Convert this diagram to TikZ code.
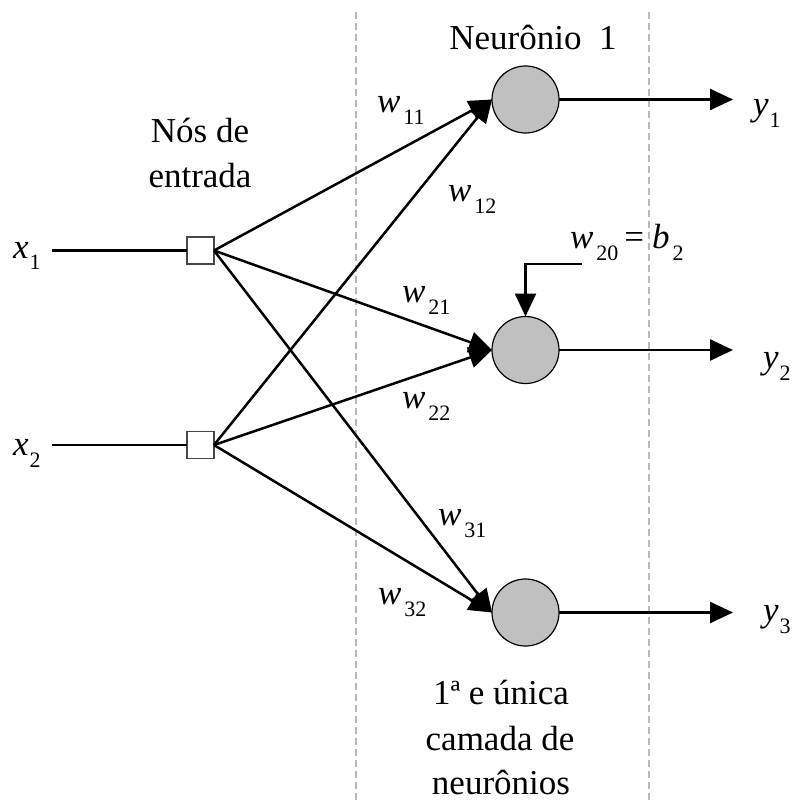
\documentclass[tikz,border=0pt]{standalone}
\usepackage{fontspec}
\setmainfont{Liberation Serif}
\usetikzlibrary{arrows.meta}
\newcommand{\subv}[3]{\textit{#1}\hspace{#3}\raisebox{-12pt}{\fontsize{22}{22}\selectfont #2}}
\begin{document}
\begin{tikzpicture}[x=1pt,y=-1pt,
  every node/.style={inner sep=0pt, outer sep=0pt},
  txt/.style={font=\fontsize{35}{45}\selectfont},
  lbl/.style={txt, anchor=base west},
  ctxt/.style={txt, anchor=base},
  neuron/.style={circle, draw=black, line width=1.2pt, fill={rgb,255:red,192;green,192;blue,192}, minimum size=67pt},
  inbox/.style={rectangle, draw={rgb,255:red,70;green,70;blue,70}, line width=1.2pt, fill=white, minimum size=27pt},
  conn/.style={line width=2.5pt, black},
  arr/.style={conn, -{Triangle[length=23pt,width=21pt]}},
  sep/.style={line width=1.2pt, draw={rgb,255:red,185;green,185;blue,185}, dash pattern=on 7pt off 4pt}
]
\useasboundingbox (0,0) rectangle (793,802);

% dashed separators
\coordinate (d1a) at (356,12); \coordinate (d1b) at (356,802);
\coordinate (d2a) at (649,12); \coordinate (d2b) at (649,802);
\draw[sep] (d1a) -- (d1b);
\draw[sep] (d2a) -- (d2b);

% input nodes
\node[inbox] (s1) at (200.5,250.5) {};
\node[inbox] (s2) at (200.5,445) {};
\coordinate (i1) at (52,250.5);
\coordinate (i2) at (52,445);

% neurons
\node[neuron] (n1) at (525.5,99.5) {};
\node[neuron] (n2) at (525.5,350) {};
\node[neuron] (n3) at (525.5,612.5) {};

% output ends
\coordinate (o1) at (733,99.5);
\coordinate (o2) at (733,350);
\coordinate (o3) at (733,612.5);
\coordinate (bb) at (582,264);

% connectors
\draw[conn] (i1) -- (s1.west);
\draw[conn] (i2) -- (s2.west);
\draw[arr] (s1.east) -- (n1.west);
\draw[arr] (s2.east) -- (n1.west);
\draw[arr] (s1.east) -- (n2.west);
\draw[arr] (s2.east) -- (n2.west);
\draw[arr] (s1.east) -- (n3.west);
\draw[arr] (s2.east) -- (n3.west);
\draw[arr] (n1.east) -- (o1);
\draw[arr] (n2.east) -- (o2);
\draw[arr] (n3.east) -- (o3);
\draw[arr] (bb) -- (n2.center |- bb) -- (n2.north);

% labels
\node[lbl] (lx1) at (13,258) {\subv{x}{1}{1pt}};
\node[lbl] (lx2) at (13,455) {\subv{x}{2}{1pt}};
\node[lbl] (ly1) at (753,116) {\subv{y}{1}{1pt}};
\node[lbl] (ly2) at (763,368) {\subv{y}{2}{1pt}};
\node[lbl] (ly3) at (763,621) {\subv{y}{3}{1pt}};

\node[lbl] (w11) at (377,113) {\subv{w}{11}{3pt}};
\node[lbl] (w12) at (448,202) {\subv{w}{12}{3pt}};
\node[lbl] (w21) at (402,302) {\subv{w}{21}{3pt}};
\node[lbl] (w22) at (402,408) {\subv{w}{22}{3pt}};
\node[lbl] (w31) at (438,525) {\subv{w}{31}{3pt}};
\node[lbl] (w32) at (378,604) {\subv{w}{32}{3pt}};
\node[lbl] (w20) at (570,248) {\subv{w}{20}{3pt}\hspace{6pt}=\hspace{8pt}\subv{b}{2}{3pt}};

\node[ctxt] (neu1) at (533,50) {Neurônio\ \ 1};
\node[ctxt] (nos1) at (200,143) {Nós de};
\node[ctxt] (nos2) at (200,188) {entrada};
\node[ctxt] (cam1) at (501,704) {1ª e única};
\node[ctxt] (cam2) at (500,750) {camada de};
\node[ctxt] (cam3) at (501,794) {neurônios};
\end{tikzpicture}
\end{document}
